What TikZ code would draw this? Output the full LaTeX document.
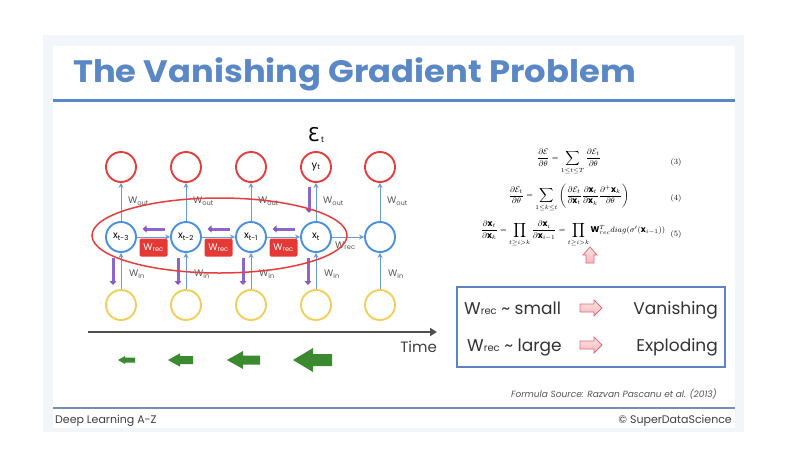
\documentclass[tikz,border=0pt]{standalone}
\usepackage{fontspec}
\setmainfont{Poppins}
\newfontfamily\djv{DejaVu Sans}
\usetikzlibrary{arrows.meta,shapes.geometric,calc}
\definecolor{titleblue}{HTML}{5A87C5}
\definecolor{cblue}{HTML}{4A90E2}
\definecolor{lblue}{HTML}{6A9BD8}
\definecolor{cred}{HTML}{E53E3E}
\definecolor{cyel}{HTML}{F2CF5B}
\definecolor{bred}{HTML}{E53935}
\definecolor{cpurp}{HTML}{7A4CC2}
\definecolor{cgreen}{HTML}{3B8A2F}
\definecolor{framegray}{HTML}{F3F6F8}
\definecolor{axgray}{HTML}{4F4F4F}
\definecolor{txtgray}{HTML}{555555}
\definecolor{boxblue}{HTML}{5F82C2}
\definecolor{pinkf}{HTML}{F6B8BC}
\definecolor{pinkd}{HTML}{D9707A}
\definecolor{footblue}{HTML}{7290B8}
\tikzset{
  circ/.style={circle, minimum size=30pt, inner sep=0pt, line width=1.9pt, fill=white, font=\fontsize{13}{13}\selectfont, text=black!80},
  outc/.style={circ, draw=cred},
  hidc/.style={circ, draw=cblue},
  inc/.style={circ, draw=cyel},
  conn/.style={draw=lblue, line width=1pt, -{Stealth[length=5pt,width=5pt]}},
  wlab/.style={font=\fontsize{9.5}{9.5}\selectfont, text=txtgray, inner sep=0pt},
  wbox/.style={fill=bred, rounded corners=1.5pt, minimum width=28pt, minimum height=18pt, inner sep=0pt, text=white, font=\fontsize{9.5}{9.5}\selectfont},
  grad/.style={draw=cpurp, opacity=0.85, line width=3pt, -{Triangle[length=4pt,width=7pt]}},
  pinkar/.style={draw=pinkd, line width=0.8pt, top color=pinkf!40, bottom color=pinkf},
  eqn/.style={inner sep=0pt, font=\fontsize{8.4}{10}\selectfont},
  boxtxt/.style={inner sep=0pt, font=\fontsize{17}{17}\selectfont, text=black!80},
}
\begin{document}
\begin{tikzpicture}[x=1pt,y=-1pt]
\useasboundingbox (0,0) rectangle (786,466);
\fill[white] (0,0) rectangle (786,466);
\fill[framegray] (43,35) rectangle (744,432);
\fill[white] (53,46) rectangle (735,428);
% title
\node[anchor=base west, inner sep=0pt, xscale=1.09, font=\fontsize{31}{31}\selectfont\bfseries, text=titleblue] (title) at (73,82) {The Vanishing Gradient Problem};
\draw[titleblue, line width=3pt] (53,100) -- (735,100);
% network
\foreach \i/\x in {1/121,2/186,3/251,4/316,5/380}{
  \node[outc] (o\i) at (\x,167) {};
  \node[hidc] (h\i) at (\x,237) {};
  \node[inc] (n\i) at (\x,305) {};
}
\node at (o4) {y\textsubscript{t}};
\node at (h1) {x\textsubscript{t-3}};
\node at (h2) {x\textsubscript{t-2}};
\node at (h3) {x\textsubscript{t-1}};
\node at (h4) {x\textsubscript{t}};
\foreach \i in {1,...,5}{
  \draw[conn] (h\i) -- (o\i);
  \draw[conn] (n\i) -- (h\i);
  \node[wlab, anchor=west] (wo\i) at ($(h\i)+(7,-36)$) {W\textsubscript{out}};
  \node[wlab, anchor=west] (wi\i) at ($(h\i)+(8,37)$) {W\textsubscript{in}};
}
\foreach \a/\b in {1/2,2/3,3/4,4/5}{ \draw[conn] (h\a) -- (h\b); }
\foreach \a/\b in {1/2,2/3,3/4}{
  \node[wbox] (r\a) at ($(h\a)!0.5!(h\b)+(0,10.5)$) {W\textsubscript{rec}};
  \draw[grad] ($(h\a)!0.5!(h\b)+(11,-8)$) -- ($(h\a)!0.5!(h\b)+(-11,-8)$);
}
\node[wlab, anchor=west] (wr4) at ($(h4)+(19,9)$) {W\textsubscript{rec}};
\foreach \i in {1,...,4}{
  \draw[grad] ($(h\i)+(-8,21)$) -- ($(h\i)+(-8,48)$);
}
\draw[grad] ($(o4)+(-7,20)$) -- ($(o4)+(-7,46)$);
% ellipse
\draw[cred, line width=1.5pt] (219.5,235.5) ellipse [x radius=127.5, y radius=37.5];
% E_t
\node[inner sep=0pt] (eps) at (316,135) {{\djv\fontsize{19}{19}\selectfont Ɛ}\,\raisebox{-1pt}{\fontsize{8}{8}\selectfont t}};
% time axis
\coordinate (t0) at (88,332);
\coordinate (t1) at (437,332);
\draw[axgray, line width=2pt, -{Triangle[length=7pt,width=8pt]}] (t0) -- (t1);
\node[anchor=east, inner sep=0pt, font=\fontsize{15}{15}\selectfont, text=black!75] (time) at (437,347) {Time};
% green arrows
\foreach \tip/\tail/\sh/\hh/\hl in {118/135/2.5/4/7, 168/193/4/6.7/12, 227/260/4.5/9/16, 293/332/6/12/20}{
  \fill[cgreen] (\tip,360) -- (\tip+\hl,360-\hh) -- (\tip+\hl,360-\sh) -- (\tail,360-\sh) -- (\tail,360+\sh) -- (\tip+\hl,360+\sh) -- (\tip+\hl,360+\hh) -- cycle;
}
% equations
\node[eqn] (eq3) at (569,162) {$\displaystyle \frac{\partial\mathcal{E}}{\partial\theta} = \sum_{1\le t\le T}\frac{\partial\mathcal{E}_t}{\partial\theta}$};
\node[eqn] (eq4) at (569,198) {$\displaystyle \frac{\partial\mathcal{E}_t}{\partial\theta} = \sum_{1\le k\le t}\left(\frac{\partial\mathcal{E}_t}{\partial\mathbf{x}_t}\frac{\partial\mathbf{x}_t}{\partial\mathbf{x}_k}\frac{\partial^+\mathbf{x}_k}{\partial\theta}\right)$};
\node[eqn] (eq5) at (573,234) {$\displaystyle \frac{\partial\mathbf{x}_t}{\partial\mathbf{x}_k} = \prod_{t\ge i>k}\frac{\partial\mathbf{x}_i}{\partial\mathbf{x}_{i-1}} = \prod_{t\ge i>k}\mathbf{W}_{rec}^T diag(\sigma'(\mathbf{x}_{i-1}))$};
\node[eqn] (tag3) at (676,162) {$(3)$};
\node[eqn] (tag4) at (676,198) {$(4)$};
\node[eqn] (tag5) at (676,234) {$(5)$};
% pink up arrow
\path[pinkar] (590,247) -- (597,255) -- (594,255) -- (594,263) -- (586,263) -- (586,255) -- (583,255) -- cycle;
% box
\node[draw=boxblue, line width=1.5pt, minimum width=268pt, minimum height=80pt, inner sep=0pt] (box) at (591,327) {};
\node[boxtxt, anchor=base west] (s1) at (464,314) {W{\fontsize{10}{10}\selectfont rec} \char`\~{} small};
\node[boxtxt, anchor=base west] (s2) at (467,351) {W{\fontsize{10}{10}\selectfont rec} \char`\~{} large};
\node[boxtxt, anchor=base east] (v1) at (718,314) {Vanishing};
\node[boxtxt, anchor=base east] (v2) at (718,351) {Exploding};
\foreach \y in {308,345}{
  \path[pinkar] (602,\y) -- (594,\y-8) -- (594,\y-4) -- (580,\y-4) -- (580,\y+4) -- (594,\y+4) -- (594,\y+8) -- cycle;
}
\node[anchor=base east, inner sep=0pt, font=\fontsize{9}{9}\selectfont\itshape, text=txtgray] (src) at (717,397) {Formula Source: Razvan Pascanu et al. (2013)};
% footer
\draw[footblue, line width=1.2pt] (53,408) -- (735,408);
\node[anchor=base west, inner sep=0pt, font=\fontsize{11}{11}\selectfont, text=black!75] (foot1) at (55,423) {Deep Learning A-Z};
\node[anchor=base east, inner sep=0pt, font=\fontsize{11}{11}\selectfont, text=black!75] (foot2) at (732,423) {© SuperDataScience};
\end{tikzpicture}
\end{document}
